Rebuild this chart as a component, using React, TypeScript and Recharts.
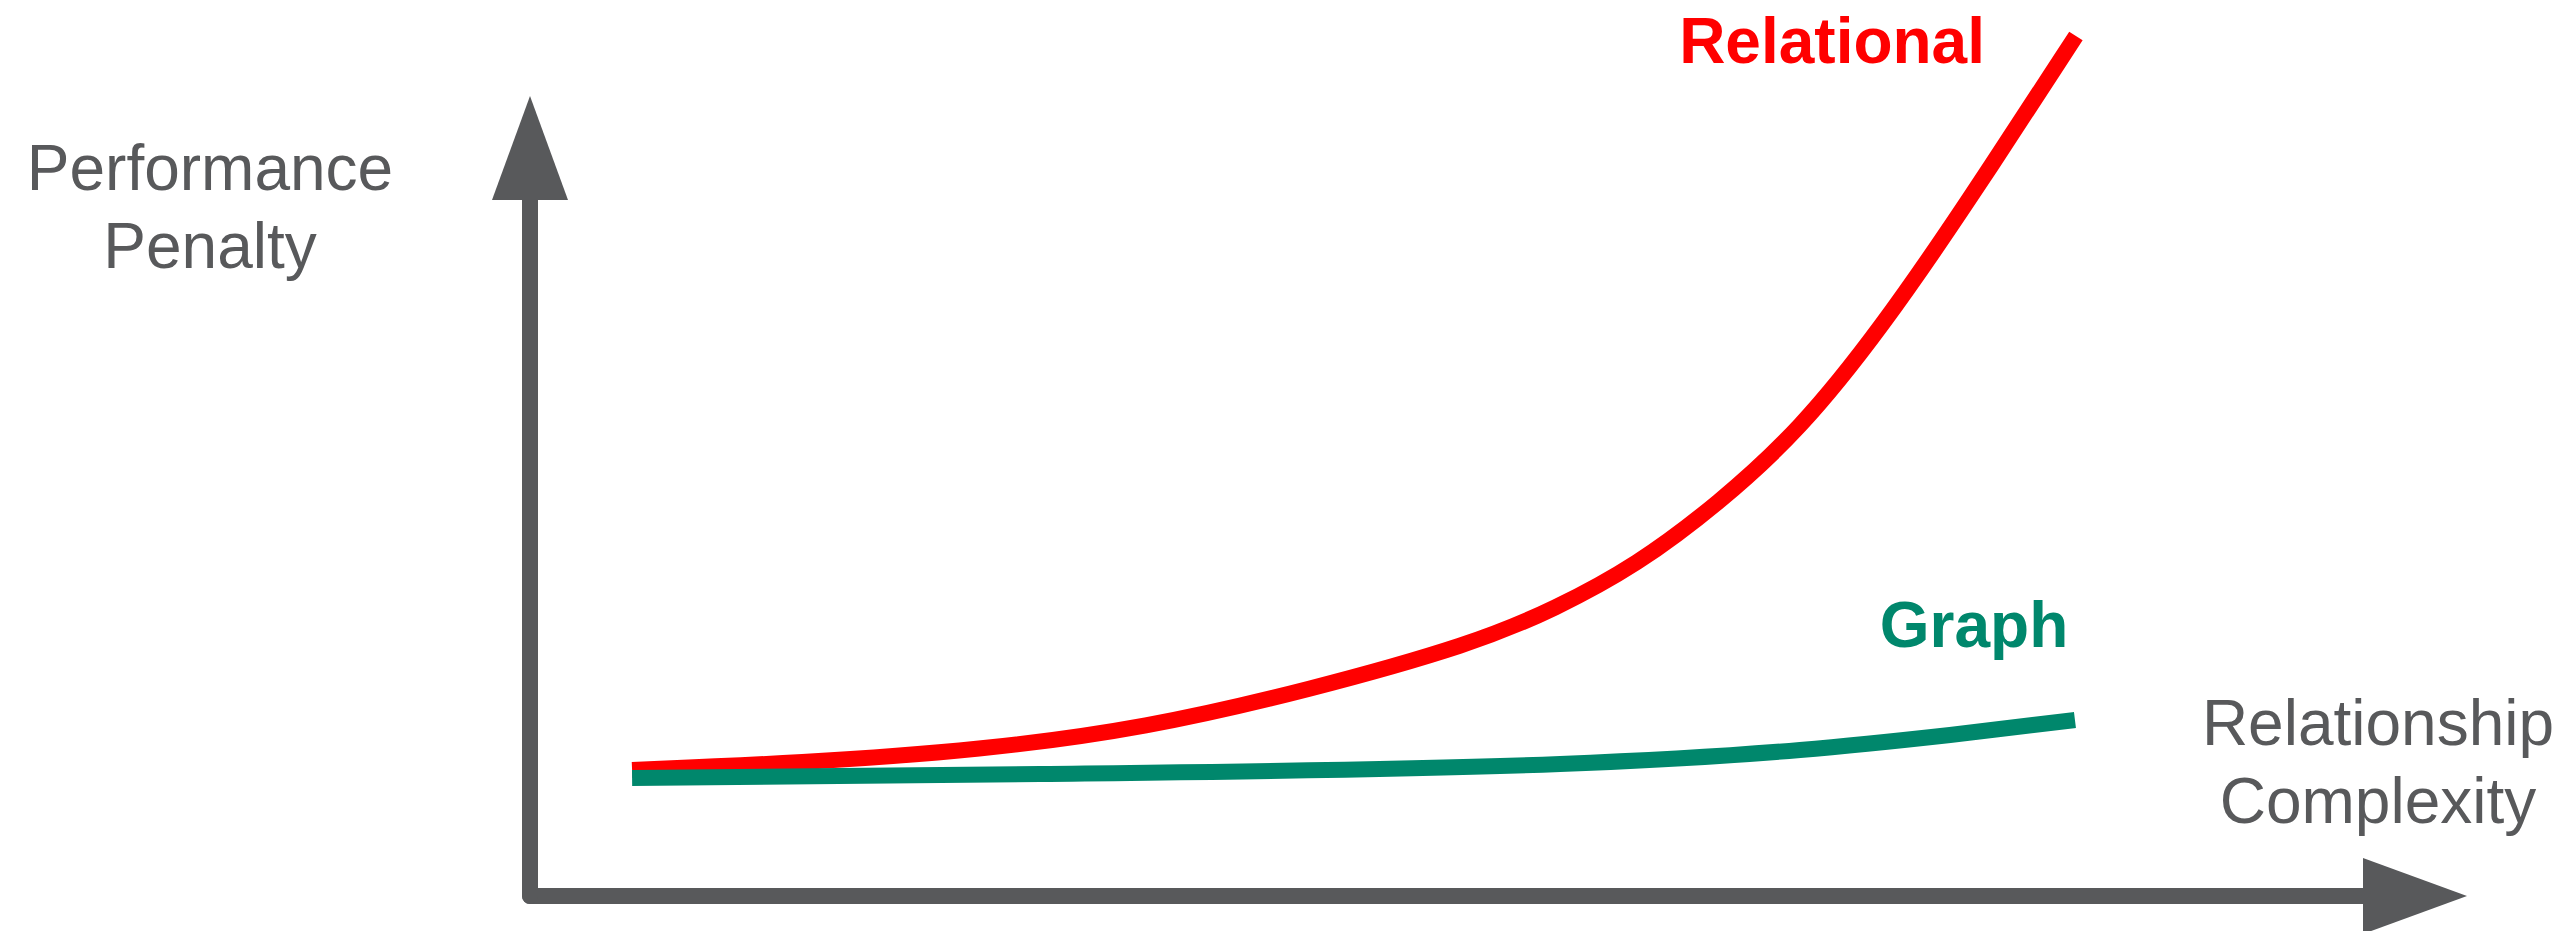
import React from 'react';
import { LineChart, Line, XAxis, YAxis, ReferenceLine, ReferenceDot } from 'recharts';

// Relationship complexity (x) against performance penalty (y), both in arbitrary units.
const relationalX = [5.27, 13.94, 23.34, 31.8, 40.22, 48.68, 52.92, 57.15, 61.33, 65.57, 69.8, 74.03, 79.81];
const relationalY = [15.75, 16.63, 18.25, 21.0, 25.75, 31.5, 35.88, 41.38, 49.0, 58.25, 71.13, 86.0, 107.5];

const graphX = [5.27, 26.33, 53.18, 65.57, 73.31, 79.76];
const graphY = [14.75, 15.25, 16.5, 18.25, 20.13, 22.0];

const seriesNames = ['Relational', 'Graph'];
const yAxisTitle = ['Performance', 'Penalty'];
const xAxisTitle = ['Relationship', 'Complexity'];

const relationalData = relationalX.map((x, i) => ({ x, y: relationalY[i] }));
const graphData = graphX.map((x, i) => ({ x, y: graphY[i] }));

const WIDTH = 2566;
const HEIGHT = 931;
const MARGIN = { top: 16, right: 99, bottom: 35, left: 530 };

const AXIS_COLOR = '#58595B';
const RED = '#FF0000';
const GREEN = '#00876C';
const FONT = '"Liberation Sans", Arial, Helvetica, sans-serif';

const ARROW_LEN = 104;
const ARROW_HALF = 38;

const UpArrow = (props: any) => {
  const { cx, cy } = props;
  const pts = `${cx},${cy} ${cx - ARROW_HALF},${cy + ARROW_LEN} ${cx + ARROW_HALF},${cy + ARROW_LEN}`;
  return <polygon points={pts} fill={AXIS_COLOR} />;
};

const RightArrow = (props: any) => {
  const { cx, cy } = props;
  const pts = `${cx},${cy} ${cx - ARROW_LEN},${cy - ARROW_HALF} ${cx - ARROW_LEN},${cy + ARROW_HALF}`;
  return <polygon points={pts} fill={AXIS_COLOR} />;
};

const seriesLabel = (text: string, color: string) => (props: any) => {
  const { cx, cy } = props;
  return (
    <text
      x={cx}
      y={cy}
      textAnchor="middle"
      fill={color}
      fontFamily={FONT}
      fontWeight="bold"
      fontSize={64}
    >
      {text}
    </text>
  );
};

const AxisTitle = ({ lines, x, y }: { lines: string[]; x: number; y: number }) => (
  <text x={x} y={y} textAnchor="middle" fill={AXIS_COLOR} fontFamily={FONT} fontSize={64}>
    {lines.map((l, i) => (
      <tspan key={l} x={x} dy={i === 0 ? 0 : 78}>
        {l}
      </tspan>
    ))}
  </text>
);

export default function App() {
  return (
    <div style={{ position: 'absolute', left: 0, top: 0, background: '#fff' }}>
      <LineChart width={WIDTH} height={HEIGHT} margin={MARGIN}>
        <XAxis type="number" dataKey="x" domain={[0, 100]} allowDataOverflow hide />
        <YAxis type="number" dataKey="y" domain={[0, 110]} allowDataOverflow hide />

        {/* axes with arrowheads */}
        <ReferenceLine
          segment={[{ x: 0, y: 0 }, { x: 95, y: 0 }]}
          stroke={AXIS_COLOR}
          strokeWidth={16}
          strokeLinecap="round"
        />
        <ReferenceLine
          segment={[{ x: 0, y: 0 }, { x: 0, y: 88 }]}
          stroke={AXIS_COLOR}
          strokeWidth={16}
          strokeLinecap="round"
        />
        <ReferenceDot x={100} y={0} r={1} shape={RightArrow} ifOverflow="visible" />
        <ReferenceDot x={0} y={100} r={1} shape={UpArrow} ifOverflow="visible" />

        <Line
          data={relationalData}
          dataKey="y"
          type="basis"
          stroke={RED}
          strokeWidth={16}
          dot={false}
          activeDot={false}
          isAnimationActive={false}
        />
        <Line
          data={graphData}
          dataKey="y"
          type="monotone"
          stroke={GREEN}
          strokeWidth={16}
          dot={false}
          activeDot={false}
          isAnimationActive={false}
        />

        <ReferenceDot x={67.22} y={104.13} r={1} shape={seriesLabel(seriesNames[0], RED)} ifOverflow="visible" />
        <ReferenceDot x={74.55} y={31.13} r={1} shape={seriesLabel(seriesNames[1], GREEN)} ifOverflow="visible" />

        <AxisTitle lines={yAxisTitle} x={210} y={190} />
        <AxisTitle lines={xAxisTitle} x={2378} y={745} />
      </LineChart>
    </div>
  );
}
